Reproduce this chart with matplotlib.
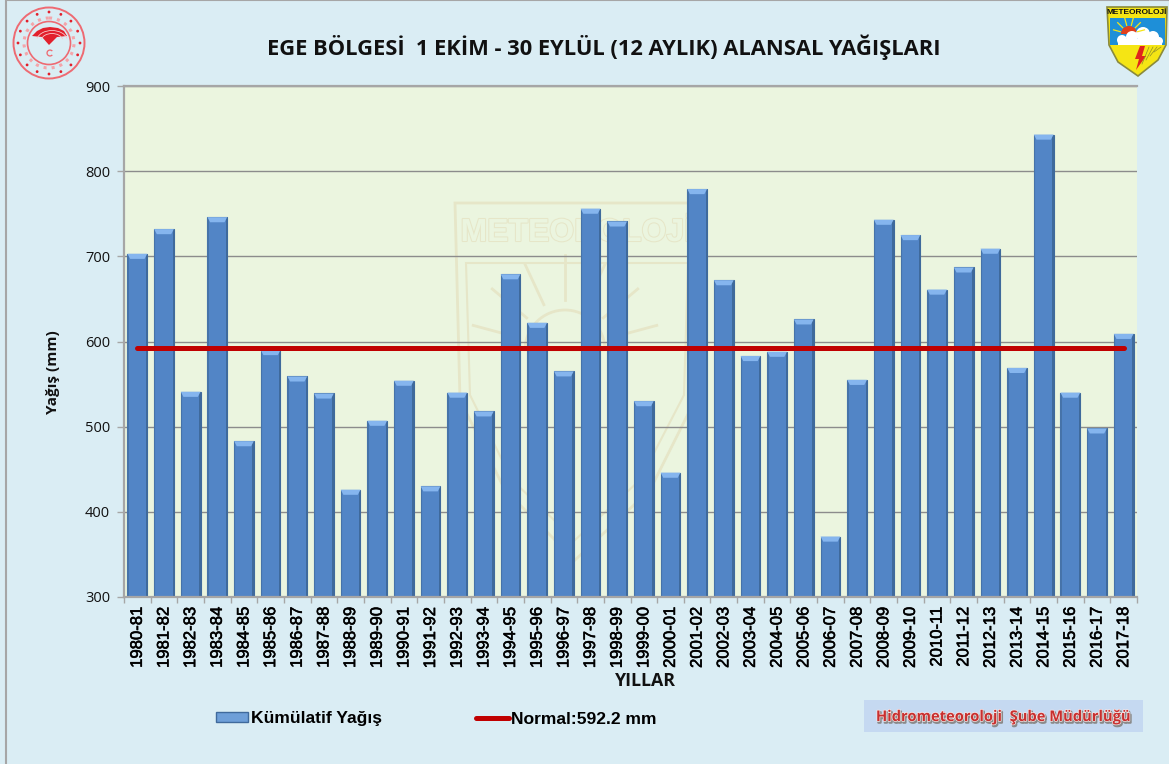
import matplotlib
matplotlib.use('Agg')
import matplotlib.pyplot as plt
import matplotlib.patheffects as pe
import numpy as np
from matplotlib.lines import Line2D
from matplotlib.patches import Arc, Circle, Patch, Polygon, Rectangle, Wedge

years = ['1980-81', '1981-82', '1982-83', '1983-84', '1984-85', '1985-86', '1986-87', '1987-88',
         '1988-89', '1989-90', '1990-91', '1991-92', '1992-93', '1993-94', '1994-95', '1995-96',
         '1996-97', '1997-98', '1998-99', '1999-00', '2000-01', '2001-02', '2002-03', '2003-04',
         '2004-05', '2005-06', '2006-07', '2007-08', '2008-09', '2009-10', '2010-11', '2011-12',
         '2012-13', '2013-14', '2014-15', '2015-16', '2016-17', '2017-18']
rain = [703, 732, 541, 746, 483, 590, 559, 539, 426, 507, 554, 430, 540, 518, 679, 622, 565, 756, 741,
        530, 446, 779, 672, 583, 588, 626, 371, 555, 743, 725, 661, 687, 709, 569, 843, 540, 498, 609]
normal = 592.2
yticks = [300, 400, 500, 600, 700, 800, 900]

W, H = 1169, 764
SANS = 'Open Sans'
ARIAL = 'Liberation Sans'

fig = plt.figure(figsize=(W / 100, H / 100), dpi=100, facecolor='#DAEDF4')


def draw_state_logo(deco):
    red = '#E2202C'
    deco.add_patch(Circle((49, 43), 35.5, fc='none', ec='#EE6A72', lw=1.4))
    deco.add_patch(Circle((49, 43), 21.5, fc='none', ec='#EE6A72', lw=1.2))
    deco.add_patch(Circle((49, 43), 25, fc='none', ec='#F4A5AA', lw=2.2, ls=':'))
    for angle in np.arange(0, 360, 22.5):
        a = np.radians(angle)
        deco.add_patch(Circle((49 + 31 * np.cos(a), 43 + 31 * np.sin(a)), 1.4, fc=red, ec='none'))
    deco.add_patch(Polygon([(32, 36), (37, 31), (43, 28), (50, 27), (58, 28), (64, 31), (67, 36), (57, 37),
                            (49, 45), (42, 37)], fc=red, ec='none'))
    for r in (10, 14):
        deco.add_patch(Arc((52, 41), 2.2 * r, 1.5 * r, theta1=190, theta2=350, ec='#F9C8CA', lw=0.6))
    deco.add_patch(Wedge((50, 53), 3.6, 40, 320, width=1.3, fc='#EE6A72', ec='none'))


def draw_meteo_logo(deco):
    deco.add_patch(Polygon([(1107, 7), (1167, 7), (1166, 45), (1158, 60), (1138, 76), (1118, 62), (1109, 45)],
                           fc='#F5E514', ec='#8A8A3C', lw=1.2))
    deco.add_patch(Polygon([(1110, 18), (1165, 18), (1165, 45), (1110, 45)], fc='#1E8FD8', ec='none'))
    deco.add_patch(Wedge((1129, 34), 8, 180, 360, fc='#E0401C', ec='none'))
    for angle in np.arange(195, 350, 30):
        a = np.radians(angle)
        deco.plot([1129 + 9 * np.cos(a), 1129 + 16 * np.cos(a)], [34 + 9 * np.sin(a), 34 + 16 * np.sin(a)],
                  color='#F5E514', lw=0.9)
    for cx, cy, r in [(1122, 40, 5), (1132, 37, 6), (1143, 34, 7), (1153, 37, 6), (1159, 41, 4)]:
        deco.add_patch(Circle((cx, cy), r, fc='white', ec='none'))
    deco.add_patch(Rectangle((1118, 39), 44, 6, fc='white', ec='none'))
    deco.add_patch(Polygon([(1140, 46), (1145, 46), (1142, 56), (1146, 56), (1136, 70), (1139, 59), (1135, 59)],
                           fc='#E0241C', ec='none'))
    for xs in (1146, 1150, 1154, 1158):
        deco.plot([xs + 3, xs - 4], [47, 64 - (xs - 1146)], color='#8E8E2A', lw=0.5)
    deco.text(1137, 12.8, 'METEOROLOJİ', color='#111111', fontsize=6, fontweight='bold', family=ARIAL,
              ha='center', va='center')


def draw_watermark(deco):
    pale = '#E6E6C8'
    deco.add_patch(Polygon([(455, 203), (698, 203), (695, 400), (650, 490), (575, 560), (505, 490), (460, 400)],
                           fc='none', ec=pale, lw=2))
    deco.add_patch(Polygon([(466, 263), (688, 263), (684, 395), (640, 480), (575, 540), (512, 480), (470, 395)],
                           fc='none', ec=pale, lw=1.5))
    deco.text(577, 233, 'METEOROLOJİ', fontsize=23, family=ARIAL, fontweight='bold', color='#EBF5DF',
              ha='center', va='center', path_effects=[pe.withStroke(linewidth=1.5, foreground=pale)])
    deco.add_patch(Wedge((565, 350), 40, 180, 360, fc='none', ec=pale, lw=2))
    for angle in np.arange(195, 350, 25):
        a = np.radians(angle)
        deco.plot([565 + 50 * np.cos(a), 565 + 95 * np.cos(a)], [350 + 50 * np.sin(a), 350 + 95 * np.sin(a)],
                  color=pale, lw=2)


deco = fig.add_axes([0, 0, 1, 1], zorder=0)
deco.set_xlim(0, W)
deco.set_ylim(H, 0)
deco.axis('off')
deco.add_patch(Rectangle((6, 0), W, H + 5, fc='none', ec='#A6A6A6', lw=1.5))
deco.add_patch(Rectangle((124, 86), 1013, 511, fc='#EBF5DF', ec='none'))
draw_watermark(deco)
draw_state_logo(deco)
draw_meteo_logo(deco)
deco.add_patch(Rectangle((864, 700), 279, 32, fc='#C5D9F1', ec='none'))
deco.text(1003.5, 717, 'Hidrometeoroloji  Şube Müdürlüğü', color='#C8302F', fontsize=10.6, fontweight='bold',
          family=SANS, ha='center', va='center',
          path_effects=[pe.Stroke(offset=(0.8, -1.2), linewidth=1.6, foreground='#8A8A8A'),
                        pe.Stroke(linewidth=1, foreground='#F8E8E8'), pe.Normal()])

ax = fig.add_axes([124 / W, 1 - 597 / H, 1013 / W, 511 / H], zorder=1, facecolor='none')
x = np.arange(len(years))
bw = 0.74
side = 0.05

ax.bar(x, rain, bw, color='#5285C6', edgecolor='#3F6A9C', linewidth=0.8, zorder=2)
ax.bar(x - bw / 2 + side / 2, rain, side, color='#4673A9', linewidth=0, zorder=2.1)
ax.bar(x + bw / 2 - side / 2, rain, side, color='#3F6A9C', linewidth=0, zorder=2.1)
for xi, val in zip(x, rain):
    ax.add_patch(Polygon([(xi - bw / 2, val), (xi + bw / 2, val), (xi + bw / 2 - 2 * side, val - 6),
                          (xi - bw / 2 + 2 * side, val - 6)], fc='#85B5EE', ec='none', zorder=2.2))

ax.plot(x, [normal] * len(x), color='#C00000', lw=3.6, solid_capstyle='round', zorder=3)

ax.set_xlim(-0.5, len(years) - 0.5)
ax.set_ylim(300, 900)
ax.set_yticks(yticks)
ax.set_yticklabels(yticks, fontsize=10.5, family=SANS, color='#111111')
ax.set_xticks(x)
ax.set_xticklabels(years, rotation=90, fontsize=12, family=ARIAL, color='black',
                   path_effects=[pe.withStroke(linewidth=0.4, foreground='black')])
ax.set_xticks(np.arange(-0.5, len(years)), minor=True)
ax.tick_params(axis='x', which='major', length=0, pad=7)
ax.tick_params(axis='x', which='minor', length=4, width=1, color='#A6A6A6')
ax.tick_params(axis='y', length=5, width=1, color='#A6A6A6', pad=5)
ax.grid(axis='y', color='#8C8C8C', lw=1, zorder=1)
ax.set_axisbelow(True)
for name in ['left', 'bottom', 'top']:
    ax.spines[name].set_color('#A6A6A6')
    ax.spines[name].set_linewidth(1.6)
ax.spines['right'].set_visible(False)

fig.text(604 / W, 1 - 47 / H, 'EGE BÖLGESİ  1 EKİM - 30 EYLÜL (12 AYLIK) ALANSAL YAĞIŞLARI',
         fontsize=15.75, fontweight='bold', family=SANS, ha='center', va='center', color='#111111')
fig.text(53 / W, 1 - 372 / H, 'Yağış (mm)', rotation=90, fontsize=11, fontweight='bold', family=SANS,
         ha='center', va='center', color='#111111')
fig.text(645 / W, 1 - 681 / H, 'YILLAR', fontsize=12.8, fontweight='bold', family=SANS,
         ha='center', va='center', color='#111111')

handles = [Patch(fc='#6E9FD8', ec='#3F6A9C', lw=1),
           Line2D([0], [0], color='#C00000', lw=3.6, solid_capstyle='round')]
leg = fig.legend(handles, ['Kümülatif Yağış', 'Normal:592.2 mm'], ncol=2, frameon=False,
                 loc='center left', bbox_to_anchor=(200 / W, 1 - 719 / H), handlelength=1.85,
                 handleheight=0.5, handletextpad=0.15, columnspacing=5.4,
                 prop={'family': ARIAL, 'weight': 'bold', 'size': 12.6})

fig.savefig('out.png', dpi=100, facecolor=fig.get_facecolor())
